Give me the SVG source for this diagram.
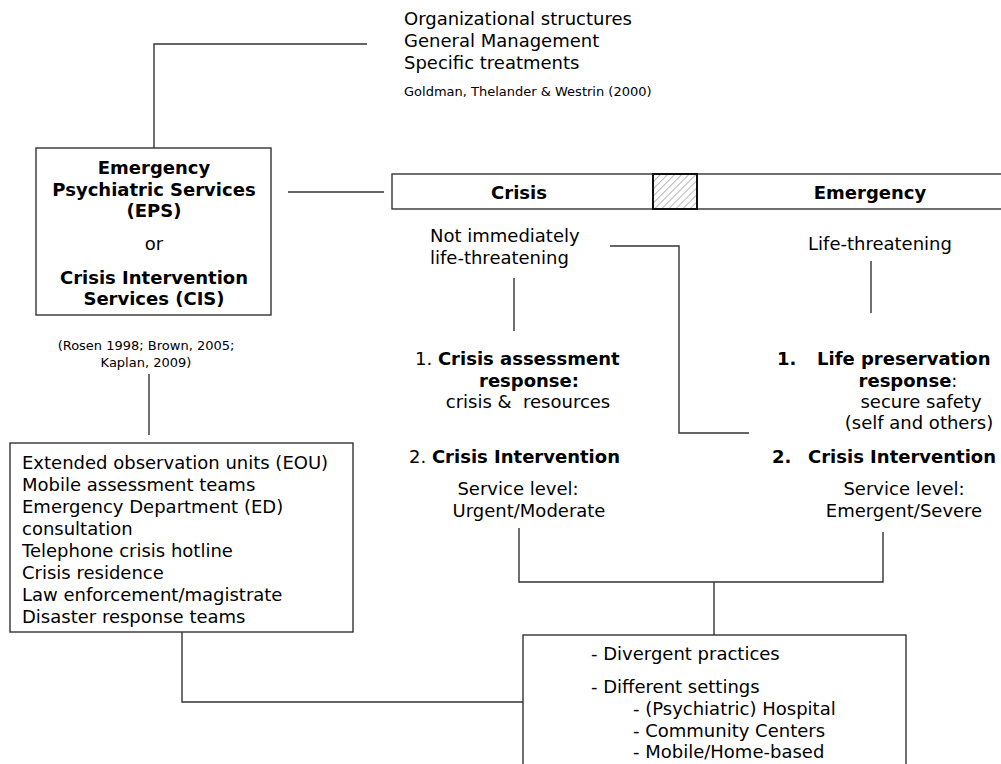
<svg xmlns="http://www.w3.org/2000/svg" width="1001" height="764" viewBox="0 0 1001 764">
<style>
text{font-family:"DejaVu Sans","Liberation Sans",sans-serif;font-size:18px;fill:#000}
.b{font-weight:bold}
.s{font-size:13px}
.m{text-anchor:middle}
.box{fill:#fff;stroke:#333;stroke-width:1.4}
.ln{fill:none;stroke:#333;stroke-width:1.4}
</style>
<defs>
<pattern id="hatch" width="5" height="5" patternUnits="userSpaceOnUse" patternTransform="rotate(45)">
<rect width="5" height="5" fill="#fff"/>
<line x1="0" y1="0" x2="0" y2="5" stroke="#888" stroke-width="1.2"/>
</pattern>
</defs>
<rect width="1001" height="764" fill="#fff"/>

<g id="connectors">
<path class="ln" d="M154 148 V44 H367"/>
<path class="ln" d="M288 192 H384"/>
<path class="ln" d="M149 374 V435"/>
<path class="ln" d="M182 632 V702 H523"/>
<path class="ln" d="M514 278 V331"/>
<path class="ln" d="M871 261 V313"/>
<path class="ln" d="M610 246 H679 V433 H749"/>
<path class="ln" d="M519 528 V582 H883 V532"/>
<path class="ln" d="M714 582 V635"/>
</g>

<g id="node-references">
<text x="404" y="25">Organizational structures</text>
<text x="404" y="47">General Management</text>
<text x="404" y="69">Specific treatments</text>
<text x="404" y="96" class="s">Goldman, Thelander &amp; Westrin (2000)</text>
</g>

<g id="node-eps">
<rect class="box" x="36" y="148" width="235" height="167"/>
<text x="154" y="174" class="b m">Emergency</text>
<text x="154" y="196" class="b m">Psychiatric Services</text>
<text x="154" y="217" class="b m">(EPS)</text>
<text x="154" y="250" class="m">or</text>
<text x="154" y="284" class="b m">Crisis Intervention</text>
<text x="154" y="305" class="b m">Services (CIS)</text>
</g>

<g id="node-eps-refs">
<text x="146" y="350" class="s m">(Rosen 1998; Brown, 2005;</text>
<text x="146" y="367" class="s m">Kaplan, 2009)</text>
</g>

<g id="node-bar">
<rect class="box" x="392" y="174" width="620" height="35"/>
<rect x="653" y="174" width="44" height="35" fill="url(#hatch)" stroke="#111" stroke-width="2"/>
<text x="519" y="199" class="b m">Crisis</text>
<text x="870" y="199" class="b m">Emergency</text>
</g>

<g id="node-crisis">
<text x="430" y="242">Not immediately</text>
<text x="430" y="264">life-threatening</text>
<text x="415" y="365">1. <tspan class="b">Crisis assessment</tspan></text>
<text x="529" y="387" class="b m">response:</text>
<text x="528" y="408" class="m" style="white-space:pre">crisis &amp;  resources</text>
<text x="409" y="463">2. <tspan class="b">Crisis Intervention</tspan></text>
<text x="518" y="495" class="m">Service level:</text>
<text x="529" y="517" class="m">Urgent/Moderate</text>
</g>

<g id="node-emergency">
<text x="880" y="250" class="m">Life-threatening</text>
<text x="777" y="365" class="b">1.</text>
<text x="817" y="365" class="b">Life preservation</text>
<text x="908" y="387" class="m"><tspan class="b">response</tspan>:</text>
<text x="921" y="408" class="m">secure safety</text>
<text x="919" y="429" class="m">(self and others)</text>
<text x="772" y="463" class="b">2.</text>
<text x="808" y="463" class="b">Crisis Intervention</text>
<text x="904" y="495" class="m">Service level:</text>
<text x="904" y="517" class="m">Emergent/Severe</text>
</g>

<g id="node-services">
<rect class="box" x="10" y="443" width="343" height="189"/>
<text x="22" y="469">Extended observation units (EOU)</text>
<text x="22" y="491">Mobile assessment teams</text>
<text x="22" y="513">Emergency Department (ED)</text>
<text x="22" y="535">consultation</text>
<text x="22" y="557">Telephone crisis hotline</text>
<text x="22" y="579">Crisis residence</text>
<text x="22" y="601">Law enforcement/magistrate</text>
<text x="22" y="623">Disaster response teams</text>
</g>

<g id="node-practices">
<rect class="box" x="523" y="635" width="383" height="140"/>
<text x="591" y="660">- Divergent practices</text>
<text x="591" y="693">- Different settings</text>
<text x="633" y="715">- (Psychiatric) Hospital</text>
<text x="633" y="737">- Community Centers</text>
<text x="633" y="758">- Mobile/Home-based</text>
</g>
</svg>
